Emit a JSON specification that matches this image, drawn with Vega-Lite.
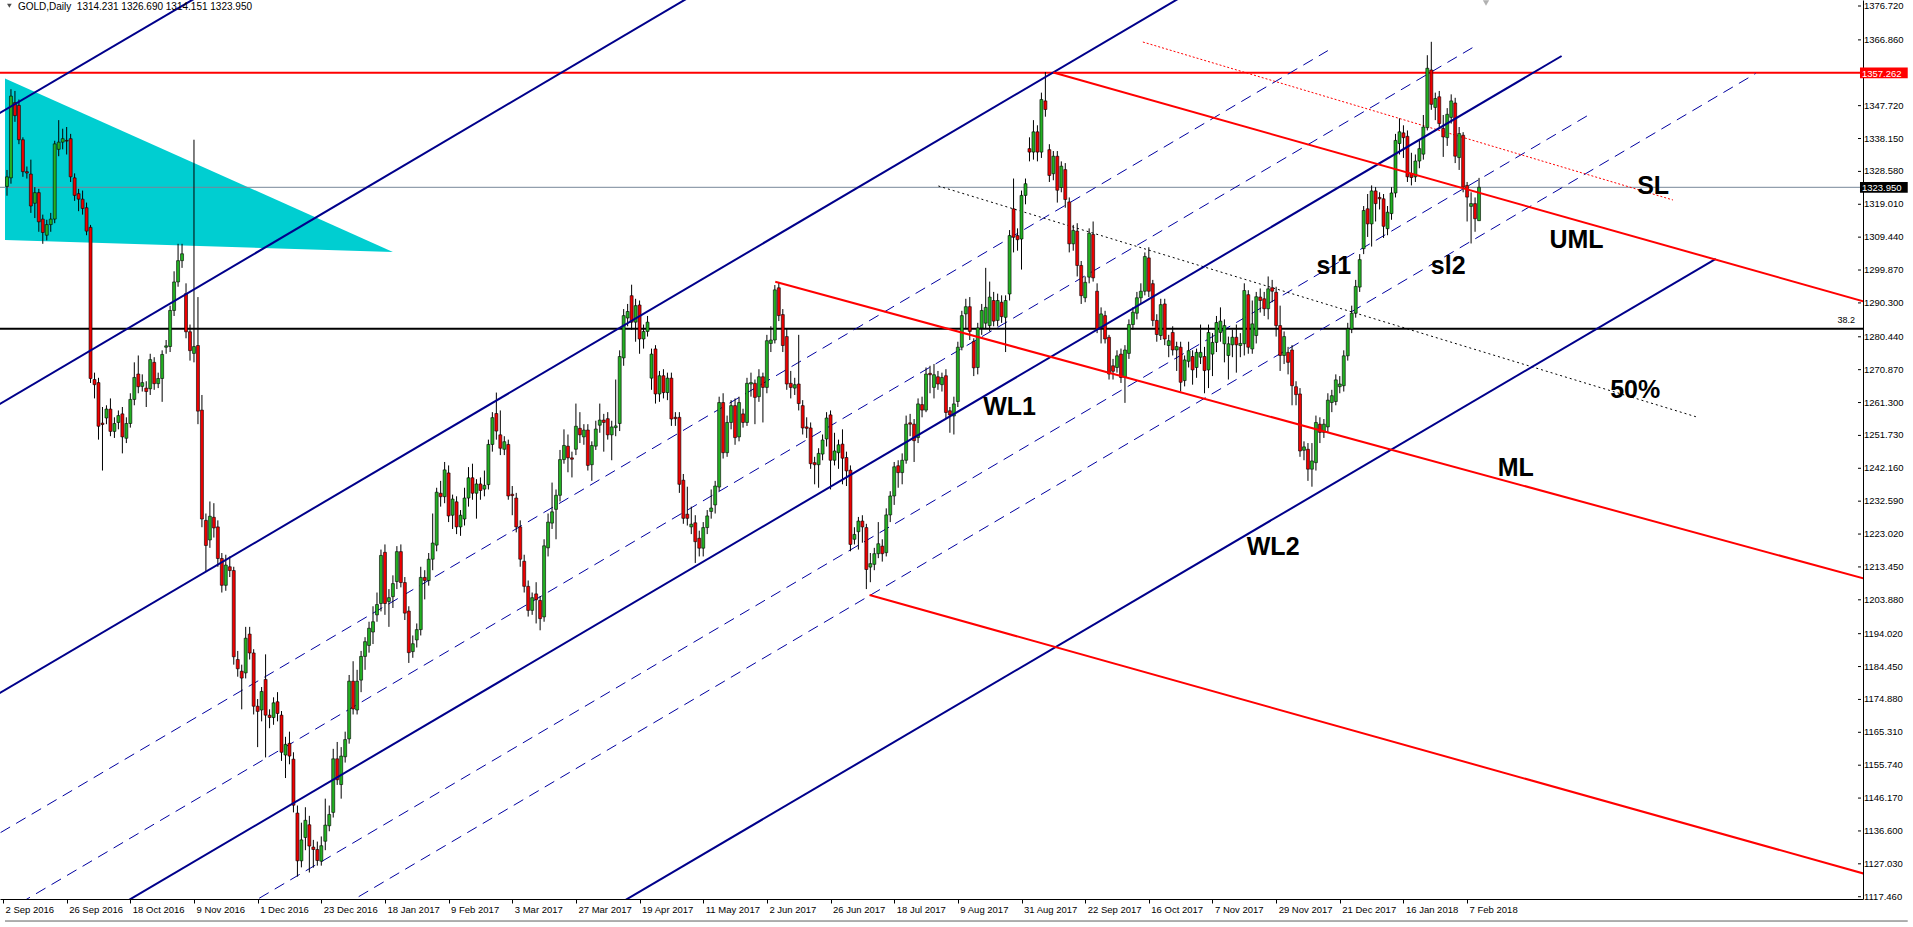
{
"$schema":"https://vega.github.io/schema/vega-lite/v6.json",
"width":1863,"height":899,
"autosize":{"type":"none"},
"padding":{"left":0,"top":0,"right":50,"bottom":28},
"background":"white",
"config":{"view":{"stroke":null},"font":"Liberation Sans","axis":{"labelOverlap":false,"labelSeparation":0}},
"datasets":{
"candles":[
{"i":1,"o":1324.2,"h":1329,"l":1321.5,"c":1327.0},
{"i":2,"o":1326.7,"h":1352.5,"l":1325.0,"c":1350.5},
{"i":3,"o":1348.6,"h":1352.0,"l":1343.0,"c":1344.8},
{"i":4,"o":1347.8,"h":1349.5,"l":1336.5,"c":1337.8},
{"i":5,"o":1337.8,"h":1338.5,"l":1327.0,"c":1328.5},
{"i":6,"o":1328.5,"h":1330.0,"l":1326.5,"c":1328.1},
{"i":7,"o":1327.8,"h":1332.0,"l":1316.5,"c":1318.5},
{"i":8,"o":1319.3,"h":1324.0,"l":1315.0,"c":1322.4},
{"i":9,"o":1322.4,"h":1323.5,"l":1311.0,"c":1313.9},
{"i":10,"o":1314.7,"h":1316.0,"l":1307.5,"c":1310.8},
{"i":11,"o":1310.0,"h":1314.5,"l":1308.5,"c":1313.1},
{"i":12,"o":1313.1,"h":1316.5,"l":1311.0,"c":1314.7},
{"i":13,"o":1314.7,"h":1337.5,"l":1313.5,"c":1336.6},
{"i":14,"o":1335.0,"h":1343.5,"l":1333.0,"c":1337.1},
{"i":15,"o":1337.1,"h":1341.0,"l":1335.0,"c":1338.1},
{"i":16,"o":1337.6,"h":1341.5,"l":1333.5,"c":1337.4},
{"i":17,"o":1338.1,"h":1339.5,"l":1325.5,"c":1327.0},
{"i":18,"o":1326.7,"h":1328.0,"l":1320.0,"c":1321.6},
{"i":19,"o":1322.1,"h":1323.5,"l":1317.0,"c":1320.5},
{"i":20,"o":1320.5,"h":1323.0,"l":1316.0,"c":1317.8},
{"i":21,"o":1318.0,"h":1319.5,"l":1310.0,"c":1311.2},
{"i":22,"o":1312.3,"h":1313.0,"l":1267.0,"c":1268.3},
{"i":23,"o":1268.0,"h":1270.0,"l":1262.5,"c":1266.5},
{"i":24,"o":1267.1,"h":1268.5,"l":1250.5,"c":1254.4},
{"i":25,"o":1255.3,"h":1260.0,"l":1241.5,"c":1254.9},
{"i":26,"o":1256.8,"h":1260.5,"l":1255.0,"c":1259.4},
{"i":27,"o":1259.4,"h":1262.5,"l":1251.5,"c":1252.9},
{"i":28,"o":1252.9,"h":1257.0,"l":1251.0,"c":1255.2},
{"i":29,"o":1255.5,"h":1259.0,"l":1253.5,"c":1257.5},
{"i":30,"o":1258.0,"h":1260.0,"l":1246.5,"c":1251.3},
{"i":31,"o":1250.9,"h":1257.0,"l":1249.5,"c":1255.2},
{"i":32,"o":1255.2,"h":1264.0,"l":1254.0,"c":1262.2},
{"i":33,"o":1262.2,"h":1273.0,"l":1260.5,"c":1268.6},
{"i":34,"o":1269.6,"h":1275.0,"l":1264.0,"c":1265.9},
{"i":35,"o":1266.0,"h":1269.5,"l":1264.5,"c":1267.1},
{"i":36,"o":1265.5,"h":1267.5,"l":1260.0,"c":1264.5},
{"i":37,"o":1265.3,"h":1275.5,"l":1263.5,"c":1273.8},
{"i":38,"o":1273.0,"h":1274.5,"l":1265.0,"c":1266.8},
{"i":39,"o":1266.8,"h":1270.0,"l":1265.5,"c":1268.3},
{"i":40,"o":1268.3,"h":1276.5,"l":1261.5,"c":1275.3},
{"i":41,"o":1277.4,"h":1279.5,"l":1275.5,"c":1277.8},
{"i":42,"o":1277.6,"h":1289.5,"l":1276.0,"c":1288.1},
{"i":43,"o":1288.1,"h":1299.5,"l":1286.5,"c":1296.4},
{"i":44,"o":1296.4,"h":1307.5,"l":1295.0,"c":1302.6},
{"i":45,"o":1302.6,"h":1307.5,"l":1300.5,"c":1304.6},
{"i":46,"o":1293.0,"h":1296.0,"l":1280.0,"c":1281.9},
{"i":47,"o":1281.9,"h":1284.0,"l":1273.5,"c":1276.4},
{"i":48,"o":1275.6,"h":1337.8,"l":1273.0,"c":1277.6},
{"i":49,"o":1277.9,"h":1292.0,"l":1255.0,"c":1258.8},
{"i":50,"o":1259.1,"h":1263.5,"l":1225.0,"c":1227.4},
{"i":51,"o":1227.0,"h":1229.0,"l":1212.0,"c":1219.7},
{"i":52,"o":1221.3,"h":1232.5,"l":1219.0,"c":1228.2},
{"i":53,"o":1227.9,"h":1232.0,"l":1222.0,"c":1224.8},
{"i":54,"o":1225.1,"h":1227.0,"l":1213.5,"c":1215.9},
{"i":55,"o":1215.9,"h":1217.5,"l":1206.0,"c":1208.1},
{"i":56,"o":1208.1,"h":1217.0,"l":1206.5,"c":1214.0},
{"i":57,"o":1213.5,"h":1216.5,"l":1210.5,"c":1212.4},
{"i":58,"o":1212.4,"h":1213.5,"l":1185.0,"c":1187.3},
{"i":59,"o":1186.5,"h":1189.0,"l":1181.5,"c":1183.8},
{"i":60,"o":1183.1,"h":1185.0,"l":1172.0,"c":1181.1},
{"i":61,"o":1182.6,"h":1196.0,"l":1181.0,"c":1192.7},
{"i":62,"o":1193.9,"h":1196.0,"l":1186.5,"c":1188.4},
{"i":63,"o":1188.4,"h":1189.5,"l":1170.5,"c":1172.9},
{"i":64,"o":1172.9,"h":1175.0,"l":1161.0,"c":1171.4},
{"i":65,"o":1171.8,"h":1178.5,"l":1168.5,"c":1177.2},
{"i":66,"o":1180.7,"h":1188.0,"l":1158.0,"c":1170.3},
{"i":67,"o":1170.3,"h":1172.0,"l":1166.5,"c":1169.6},
{"i":68,"o":1169.6,"h":1175.5,"l":1167.5,"c":1173.9},
{"i":69,"o":1174.2,"h":1177.0,"l":1168.5,"c":1170.8},
{"i":70,"o":1170.3,"h":1171.5,"l":1157.0,"c":1159.5},
{"i":71,"o":1158.7,"h":1164.0,"l":1152.0,"c":1161.8},
{"i":72,"o":1162.1,"h":1165.5,"l":1156.0,"c":1158.4},
{"i":73,"o":1157.5,"h":1159.5,"l":1142.0,"c":1144.1},
{"i":74,"o":1141.8,"h":1144.0,"l":1123.3,"c":1127.9},
{"i":75,"o":1127.9,"h":1139.0,"l":1126.0,"c":1134.0},
{"i":76,"o":1134.7,"h":1143.5,"l":1131.0,"c":1139.7},
{"i":77,"o":1138.4,"h":1141.0,"l":1124.5,"c":1132.2},
{"i":78,"o":1131.9,"h":1134.0,"l":1125.9,"c":1131.2},
{"i":79,"o":1131.2,"h":1133.5,"l":1126.5,"c":1128.0},
{"i":80,"o":1127.8,"h":1135.0,"l":1126.5,"c":1132.3},
{"i":81,"o":1133.6,"h":1146.0,"l":1131.0,"c":1138.3},
{"i":82,"o":1138.1,"h":1144.0,"l":1136.5,"c":1141.4},
{"i":83,"o":1142.0,"h":1160.5,"l":1140.5,"c":1157.6},
{"i":84,"o":1157.6,"h":1162.5,"l":1150.0,"c":1151.5},
{"i":85,"o":1150.1,"h":1161.0,"l":1146.0,"c":1158.4},
{"i":86,"o":1158.2,"h":1165.5,"l":1156.5,"c":1163.2},
{"i":87,"o":1163.4,"h":1182.0,"l":1162.0,"c":1180.2},
{"i":88,"o":1180.2,"h":1186.0,"l":1170.5,"c":1172.1},
{"i":89,"o":1171.8,"h":1183.5,"l":1170.5,"c":1180.2},
{"i":90,"o":1180.5,"h":1189.0,"l":1177.0,"c":1187.4},
{"i":91,"o":1187.4,"h":1193.0,"l":1183.5,"c":1191.7},
{"i":92,"o":1190.6,"h":1197.5,"l":1188.5,"c":1195.6},
{"i":93,"o":1194.5,"h":1202.0,"l":1191.0,"c":1197.5},
{"i":94,"o":1199.5,"h":1206.0,"l":1197.5,"c":1202.5},
{"i":95,"o":1202.8,"h":1218.5,"l":1200.5,"c":1216.8},
{"i":96,"o":1217.7,"h":1220.0,"l":1199.5,"c":1202.8},
{"i":97,"o":1203.4,"h":1207.0,"l":1196.0,"c":1204.5},
{"i":98,"o":1204.8,"h":1211.0,"l":1201.5,"c":1208.6},
{"i":99,"o":1209.2,"h":1219.5,"l":1207.0,"c":1217.9},
{"i":100,"o":1217.9,"h":1220.0,"l":1207.5,"c":1208.9},
{"i":101,"o":1208.9,"h":1210.5,"l":1198.0,"c":1200.0},
{"i":102,"o":1200.6,"h":1202.0,"l":1185.5,"c":1188.5},
{"i":103,"o":1188.8,"h":1193.5,"l":1187.0,"c":1191.1},
{"i":104,"o":1192.2,"h":1197.0,"l":1190.0,"c":1195.2},
{"i":105,"o":1195.2,"h":1213.5,"l":1193.5,"c":1210.4},
{"i":106,"o":1210.4,"h":1212.5,"l":1204.0,"c":1209.5},
{"i":107,"o":1209.5,"h":1217.5,"l":1208.0,"c":1215.7},
{"i":108,"o":1215.7,"h":1229.0,"l":1212.5,"c":1220.4},
{"i":109,"o":1219.8,"h":1236.5,"l":1218.0,"c":1235.2},
{"i":110,"o":1234.9,"h":1238.5,"l":1231.0,"c":1233.9},
{"i":111,"o":1233.9,"h":1244.0,"l":1232.0,"c":1241.7},
{"i":112,"o":1240.8,"h":1243.0,"l":1226.5,"c":1228.3},
{"i":113,"o":1228.5,"h":1234.5,"l":1224.5,"c":1233.2},
{"i":114,"o":1232.4,"h":1234.0,"l":1223.0,"c":1225.1},
{"i":115,"o":1225.1,"h":1230.0,"l":1222.5,"c":1228.5},
{"i":116,"o":1227.4,"h":1236.5,"l":1225.5,"c":1233.5},
{"i":117,"o":1233.5,"h":1242.5,"l":1231.0,"c":1239.4},
{"i":118,"o":1239.4,"h":1243.5,"l":1233.0,"c":1234.9},
{"i":119,"o":1234.9,"h":1239.0,"l":1227.5,"c":1237.6},
{"i":120,"o":1237.6,"h":1239.5,"l":1233.0,"c":1235.7},
{"i":121,"o":1236.1,"h":1241.5,"l":1234.0,"c":1237.2},
{"i":122,"o":1237.4,"h":1250.5,"l":1236.0,"c":1249.1},
{"i":123,"o":1249.1,"h":1258.5,"l":1247.0,"c":1256.9},
{"i":124,"o":1258.1,"h":1264.2,"l":1250.5,"c":1253.0},
{"i":125,"o":1251.9,"h":1259.0,"l":1246.0,"c":1248.0},
{"i":126,"o":1247.7,"h":1251.5,"l":1246.0,"c":1249.9},
{"i":127,"o":1249.1,"h":1250.5,"l":1233.0,"c":1234.1},
{"i":128,"o":1234.6,"h":1237.0,"l":1228.5,"c":1234.2},
{"i":129,"o":1233.5,"h":1235.0,"l":1223.5,"c":1225.1},
{"i":130,"o":1225.1,"h":1227.0,"l":1213.5,"c":1215.7},
{"i":131,"o":1215.1,"h":1217.0,"l":1206.0,"c":1207.8},
{"i":132,"o":1207.8,"h":1209.5,"l":1199.0,"c":1200.8},
{"i":133,"o":1200.8,"h":1206.0,"l":1199.5,"c":1204.5},
{"i":134,"o":1205.6,"h":1209.0,"l":1197.0,"c":1203.9},
{"i":135,"o":1203.7,"h":1205.0,"l":1195.0,"c":1198.4},
{"i":136,"o":1198.9,"h":1221.5,"l":1197.5,"c":1219.6},
{"i":137,"o":1219.0,"h":1229.0,"l":1216.5,"c":1226.5},
{"i":138,"o":1226.2,"h":1238.0,"l":1224.5,"c":1229.5},
{"i":139,"o":1230.2,"h":1236.0,"l":1221.5,"c":1234.3},
{"i":140,"o":1234.3,"h":1247.5,"l":1232.5,"c":1244.7},
{"i":141,"o":1244.7,"h":1253.5,"l":1243.5,"c":1248.8},
{"i":142,"o":1248.6,"h":1252.0,"l":1241.0,"c":1245.2},
{"i":143,"o":1245.2,"h":1247.0,"l":1239.5,"c":1244.8},
{"i":144,"o":1247.7,"h":1261.0,"l":1246.0,"c":1254.4},
{"i":145,"o":1253.8,"h":1258.5,"l":1249.5,"c":1251.9},
{"i":146,"o":1251.3,"h":1255.0,"l":1249.0,"c":1253.3},
{"i":147,"o":1253.3,"h":1255.0,"l":1241.5,"c":1243.0},
{"i":148,"o":1243.2,"h":1250.0,"l":1238.5,"c":1248.8},
{"i":149,"o":1248.6,"h":1256.0,"l":1247.5,"c":1253.6},
{"i":150,"o":1254.7,"h":1261.0,"l":1252.5,"c":1256.2},
{"i":151,"o":1256.2,"h":1258.0,"l":1247.0,"c":1255.5},
{"i":152,"o":1256.6,"h":1258.5,"l":1250.5,"c":1251.9},
{"i":153,"o":1251.9,"h":1256.0,"l":1244.5,"c":1254.2},
{"i":154,"o":1254.0,"h":1268.0,"l":1251.5,"c":1254.5},
{"i":155,"o":1255.2,"h":1276.5,"l":1253.0,"c":1274.7},
{"i":156,"o":1274.3,"h":1288.5,"l":1272.0,"c":1286.6},
{"i":157,"o":1285.9,"h":1290.0,"l":1283.5,"c":1287.8},
{"i":158,"o":1292.4,"h":1295.6,"l":1282.5,"c":1284.7},
{"i":159,"o":1284.7,"h":1291.5,"l":1279.0,"c":1289.5},
{"i":160,"o":1289.7,"h":1291.0,"l":1275.5,"c":1279.8},
{"i":161,"o":1279.8,"h":1284.0,"l":1277.0,"c":1282.0},
{"i":162,"o":1282.0,"h":1286.5,"l":1280.5,"c":1284.7},
{"i":163,"o":1268.4,"h":1277.0,"l":1265.0,"c":1275.4},
{"i":164,"o":1276.9,"h":1278.0,"l":1261.0,"c":1263.8},
{"i":165,"o":1263.8,"h":1270.5,"l":1261.5,"c":1269.1},
{"i":166,"o":1269.1,"h":1271.0,"l":1262.5,"c":1264.2},
{"i":167,"o":1264.2,"h":1270.0,"l":1262.0,"c":1268.4},
{"i":168,"o":1268.4,"h":1270.0,"l":1254.5,"c":1256.5},
{"i":169,"o":1257.0,"h":1258.5,"l":1254.5,"c":1256.6},
{"i":170,"o":1257.0,"h":1258.5,"l":1235.0,"c":1237.5},
{"i":171,"o":1238.7,"h":1240.5,"l":1226.0,"c":1227.6},
{"i":172,"o":1228.8,"h":1236.8,"l":1225.5,"c":1227.6},
{"i":173,"o":1225.1,"h":1231.0,"l":1223.0,"c":1225.9},
{"i":174,"o":1226.3,"h":1228.5,"l":1214.6,"c":1220.8},
{"i":175,"o":1221.8,"h":1224.0,"l":1216.5,"c":1218.9},
{"i":176,"o":1218.9,"h":1226.5,"l":1216.5,"c":1224.9},
{"i":177,"o":1224.9,"h":1230.0,"l":1223.0,"c":1228.3},
{"i":178,"o":1229.6,"h":1236.0,"l":1227.5,"c":1230.6},
{"i":179,"o":1231.5,"h":1238.5,"l":1229.0,"c":1237.0},
{"i":180,"o":1236.7,"h":1263.0,"l":1235.5,"c":1261.3},
{"i":181,"o":1261.3,"h":1264.0,"l":1245.0,"c":1246.7},
{"i":182,"o":1246.7,"h":1257.5,"l":1245.5,"c":1255.5},
{"i":183,"o":1255.5,"h":1262.0,"l":1253.5,"c":1260.4},
{"i":184,"o":1260.4,"h":1262.5,"l":1249.0,"c":1251.1},
{"i":185,"o":1251.3,"h":1263.0,"l":1250.0,"c":1261.3},
{"i":186,"o":1258.0,"h":1259.5,"l":1254.0,"c":1255.5},
{"i":187,"o":1255.5,"h":1268.5,"l":1254.5,"c":1266.9},
{"i":188,"o":1266.7,"h":1270.0,"l":1263.0,"c":1267.1},
{"i":189,"o":1266.9,"h":1268.0,"l":1255.0,"c":1262.8},
{"i":190,"o":1263.0,"h":1271.0,"l":1261.5,"c":1268.8},
{"i":191,"o":1268.8,"h":1270.0,"l":1255.5,"c":1265.7},
{"i":192,"o":1265.7,"h":1281.0,"l":1264.0,"c":1279.3},
{"i":193,"o":1278.5,"h":1283.5,"l":1276.0,"c":1279.5},
{"i":194,"o":1279.5,"h":1295.5,"l":1278.5,"c":1294.1},
{"i":195,"o":1294.7,"h":1296.3,"l":1285.0,"c":1286.6},
{"i":196,"o":1286.9,"h":1288.5,"l":1276.0,"c":1277.9},
{"i":197,"o":1280.5,"h":1283.0,"l":1265.0,"c":1266.7},
{"i":198,"o":1266.9,"h":1270.5,"l":1262.5,"c":1265.7},
{"i":199,"o":1265.5,"h":1268.5,"l":1263.5,"c":1266.5},
{"i":200,"o":1266.7,"h":1281.0,"l":1259.0,"c":1261.0},
{"i":201,"o":1260.4,"h":1262.0,"l":1252.0,"c":1253.9},
{"i":202,"o":1254.2,"h":1257.0,"l":1251.0,"c":1253.8},
{"i":203,"o":1253.9,"h":1255.5,"l":1242.0,"c":1243.5},
{"i":204,"o":1243.8,"h":1245.5,"l":1237.5,"c":1243.2},
{"i":205,"o":1243.2,"h":1248.0,"l":1236.5,"c":1246.5},
{"i":206,"o":1246.3,"h":1252.0,"l":1244.5,"c":1250.4},
{"i":207,"o":1250.7,"h":1258.5,"l":1248.5,"c":1256.8},
{"i":208,"o":1257.7,"h":1259.0,"l":1236.0,"c":1244.5},
{"i":209,"o":1244.5,"h":1252.5,"l":1243.0,"c":1247.2},
{"i":210,"o":1246.7,"h":1250.5,"l":1242.0,"c":1249.0},
{"i":211,"o":1249.2,"h":1253.5,"l":1237.5,"c":1245.1},
{"i":212,"o":1245.3,"h":1247.0,"l":1237.0,"c":1241.4},
{"i":213,"o":1241.6,"h":1243.0,"l":1218.0,"c":1220.0},
{"i":214,"o":1221.5,"h":1225.0,"l":1220.0,"c":1222.9},
{"i":215,"o":1223.7,"h":1228.0,"l":1218.5,"c":1226.8},
{"i":216,"o":1226.8,"h":1228.5,"l":1220.5,"c":1225.1},
{"i":217,"o":1224.9,"h":1226.0,"l":1207.0,"c":1212.7},
{"i":218,"o":1213.4,"h":1217.5,"l":1209.0,"c":1214.4},
{"i":219,"o":1214.2,"h":1219.0,"l":1212.5,"c":1217.3},
{"i":220,"o":1217.3,"h":1226.5,"l":1216.0,"c":1220.2},
{"i":221,"o":1219.5,"h":1221.5,"l":1215.0,"c":1217.3},
{"i":222,"o":1217.6,"h":1230.5,"l":1216.5,"c":1228.6},
{"i":223,"o":1228.6,"h":1235.5,"l":1226.5,"c":1234.1},
{"i":224,"o":1234.1,"h":1244.0,"l":1231.5,"c":1242.6},
{"i":225,"o":1242.9,"h":1244.5,"l":1236.5,"c":1240.9},
{"i":226,"o":1240.9,"h":1246.5,"l":1237.5,"c":1244.5},
{"i":227,"o":1244.5,"h":1257.5,"l":1243.5,"c":1255.0},
{"i":228,"o":1255.4,"h":1258.0,"l":1251.5,"c":1255.0},
{"i":229,"o":1255.0,"h":1256.5,"l":1244.0,"c":1250.2},
{"i":230,"o":1251.1,"h":1262.5,"l":1249.5,"c":1260.9},
{"i":231,"o":1260.7,"h":1263.0,"l":1257.0,"c":1259.1},
{"i":232,"o":1259.1,"h":1271.5,"l":1258.5,"c":1269.6},
{"i":233,"o":1269.8,"h":1272.0,"l":1264.0,"c":1269.4},
{"i":234,"o":1265.7,"h":1272.5,"l":1262.5,"c":1269.4},
{"i":235,"o":1268.8,"h":1270.5,"l":1265.0,"c":1266.7},
{"i":236,"o":1266.5,"h":1270.0,"l":1264.5,"c":1268.6},
{"i":237,"o":1269.1,"h":1271.0,"l":1256.5,"c":1258.4},
{"i":238,"o":1258.9,"h":1260.0,"l":1252.5,"c":1257.7},
{"i":239,"o":1257.4,"h":1263.0,"l":1252.0,"c":1260.9},
{"i":240,"o":1261.6,"h":1279.0,"l":1260.0,"c":1277.4},
{"i":241,"o":1277.4,"h":1288.0,"l":1276.5,"c":1286.6},
{"i":242,"o":1287.1,"h":1291.5,"l":1283.0,"c":1289.2},
{"i":243,"o":1289.2,"h":1292.0,"l":1279.5,"c":1282.0},
{"i":244,"o":1279.1,"h":1280.0,"l":1269.0,"c":1271.4},
{"i":245,"o":1271.5,"h":1284.5,"l":1269.5,"c":1283.0},
{"i":246,"o":1283.0,"h":1290.0,"l":1281.0,"c":1288.1},
{"i":247,"o":1284.4,"h":1300.5,"l":1283.0,"c":1289.0},
{"i":248,"o":1283.7,"h":1296.5,"l":1282.0,"c":1292.0},
{"i":249,"o":1291.0,"h":1293.5,"l":1283.5,"c":1285.0},
{"i":250,"o":1285.2,"h":1293.0,"l":1283.5,"c":1291.0},
{"i":251,"o":1290.5,"h":1292.5,"l":1284.5,"c":1286.3},
{"i":252,"o":1286.1,"h":1292.5,"l":1276.0,"c":1291.0},
{"i":253,"o":1292.9,"h":1311.5,"l":1291.0,"c":1309.9},
{"i":254,"o":1317.7,"h":1326.5,"l":1305.0,"c":1309.4},
{"i":255,"o":1309.9,"h":1312.0,"l":1305.5,"c":1308.7},
{"i":256,"o":1308.9,"h":1323.0,"l":1300.0,"c":1321.6},
{"i":257,"o":1321.6,"h":1326.5,"l":1319.0,"c":1325.0},
{"i":258,"o":1335.2,"h":1338.5,"l":1331.5,"c":1334.2},
{"i":259,"o":1334.2,"h":1343.5,"l":1332.0,"c":1340.1},
{"i":260,"o":1340.1,"h":1342.0,"l":1331.5,"c":1334.2},
{"i":261,"o":1334.2,"h":1351.5,"l":1332.5,"c":1349.5},
{"i":262,"o":1349.1,"h":1357.5,"l":1344.5,"c":1346.6},
{"i":263,"o":1334.9,"h":1336.5,"l":1325.5,"c":1327.4},
{"i":264,"o":1327.9,"h":1334.5,"l":1326.0,"c":1333.0},
{"i":265,"o":1333.0,"h":1334.5,"l":1319.5,"c":1323.1},
{"i":266,"o":1323.9,"h":1331.5,"l":1322.5,"c":1330.1},
{"i":267,"o":1329.1,"h":1331.0,"l":1318.0,"c":1320.4},
{"i":268,"o":1319.7,"h":1321.0,"l":1305.0,"c":1307.5},
{"i":269,"o":1307.5,"h":1313.0,"l":1305.5,"c":1311.4},
{"i":270,"o":1311.2,"h":1313.5,"l":1298.0,"c":1301.2},
{"i":271,"o":1301.2,"h":1302.5,"l":1290.0,"c":1292.4},
{"i":272,"o":1291.8,"h":1298.0,"l":1290.5,"c":1296.3},
{"i":273,"o":1297.8,"h":1312.0,"l":1296.0,"c":1310.6},
{"i":274,"o":1310.2,"h":1314.0,"l":1296.5,"c":1297.6},
{"i":275,"o":1293.7,"h":1296.0,"l":1281.5,"c":1282.7},
{"i":276,"o":1283.0,"h":1289.0,"l":1278.5,"c":1287.1},
{"i":277,"o":1286.6,"h":1288.0,"l":1278.5,"c":1279.8},
{"i":278,"o":1280.3,"h":1281.0,"l":1268.0,"c":1269.6},
{"i":279,"o":1272.0,"h":1274.0,"l":1268.0,"c":1270.4},
{"i":280,"o":1271.5,"h":1276.5,"l":1270.0,"c":1274.9},
{"i":281,"o":1275.4,"h":1277.0,"l":1267.0,"c":1268.6},
{"i":282,"o":1268.6,"h":1278.0,"l":1261.2,"c":1276.6},
{"i":283,"o":1275.6,"h":1285.5,"l":1274.0,"c":1284.0},
{"i":284,"o":1284.0,"h":1289.0,"l":1282.5,"c":1287.6},
{"i":285,"o":1287.3,"h":1293.5,"l":1285.5,"c":1291.8},
{"i":286,"o":1291.8,"h":1296.0,"l":1290.0,"c":1293.7},
{"i":287,"o":1293.7,"h":1305.0,"l":1292.5,"c":1303.8},
{"i":288,"o":1303.4,"h":1306.5,"l":1292.0,"c":1293.7},
{"i":289,"o":1295.9,"h":1297.0,"l":1283.5,"c":1285.2},
{"i":290,"o":1285.2,"h":1287.0,"l":1279.0,"c":1281.1},
{"i":291,"o":1280.8,"h":1291.5,"l":1279.5,"c":1289.8},
{"i":292,"o":1290.0,"h":1291.5,"l":1278.0,"c":1279.8},
{"i":293,"o":1277.9,"h":1281.0,"l":1274.5,"c":1279.3},
{"i":294,"o":1281.7,"h":1283.5,"l":1275.0,"c":1276.6},
{"i":295,"o":1276.6,"h":1279.0,"l":1270.5,"c":1277.6},
{"i":296,"o":1277.4,"h":1279.0,"l":1264.5,"c":1267.2},
{"i":297,"o":1267.7,"h":1275.0,"l":1266.0,"c":1273.7},
{"i":298,"o":1273.3,"h":1279.0,"l":1271.5,"c":1276.4},
{"i":299,"o":1274.7,"h":1276.5,"l":1266.5,"c":1270.8},
{"i":300,"o":1271.5,"h":1277.0,"l":1268.5,"c":1275.9},
{"i":301,"o":1274.5,"h":1284.0,"l":1272.5,"c":1275.9},
{"i":302,"o":1274.7,"h":1277.5,"l":1264.0,"c":1270.6},
{"i":303,"o":1270.8,"h":1284.0,"l":1265.5,"c":1281.7},
{"i":304,"o":1275.4,"h":1281.5,"l":1269.0,"c":1278.8},
{"i":305,"o":1278.8,"h":1286.5,"l":1276.0,"c":1284.6},
{"i":306,"o":1281.7,"h":1289.0,"l":1279.0,"c":1285.0},
{"i":307,"o":1278.4,"h":1285.5,"l":1273.0,"c":1283.7},
{"i":308,"o":1275.0,"h":1280.5,"l":1268.0,"c":1278.4},
{"i":309,"o":1278.1,"h":1282.5,"l":1274.5,"c":1280.3},
{"i":310,"o":1280.3,"h":1284.0,"l":1270.0,"c":1278.1},
{"i":311,"o":1277.9,"h":1281.5,"l":1274.5,"c":1278.5},
{"i":312,"o":1278.4,"h":1296.0,"l":1275.0,"c":1293.9},
{"i":313,"o":1292.7,"h":1294.0,"l":1275.5,"c":1277.4},
{"i":314,"o":1276.9,"h":1291.0,"l":1275.5,"c":1284.2},
{"i":315,"o":1280.8,"h":1293.5,"l":1278.5,"c":1292.1},
{"i":316,"o":1292.0,"h":1294.5,"l":1287.5,"c":1291.0},
{"i":317,"o":1291.5,"h":1293.5,"l":1286.5,"c":1288.6},
{"i":318,"o":1288.6,"h":1298.0,"l":1285.5,"c":1294.4},
{"i":319,"o":1294.7,"h":1297.0,"l":1290.5,"c":1293.7},
{"i":320,"o":1293.4,"h":1295.0,"l":1280.5,"c":1283.7},
{"i":321,"o":1283.7,"h":1289.5,"l":1270.5,"c":1275.0},
{"i":322,"o":1275.0,"h":1282.0,"l":1272.5,"c":1280.5},
{"i":323,"o":1275.9,"h":1277.5,"l":1269.5,"c":1273.0},
{"i":324,"o":1276.6,"h":1278.0,"l":1260.5,"c":1266.2},
{"i":325,"o":1265.9,"h":1267.5,"l":1260.5,"c":1263.6},
{"i":326,"o":1263.8,"h":1265.5,"l":1245.5,"c":1247.2},
{"i":327,"o":1247.4,"h":1250.0,"l":1244.5,"c":1248.4},
{"i":328,"o":1247.7,"h":1249.5,"l":1238.5,"c":1241.9},
{"i":329,"o":1241.9,"h":1249.5,"l":1236.8,"c":1244.3},
{"i":330,"o":1243.8,"h":1257.5,"l":1241.5,"c":1255.5},
{"i":331,"o":1255.0,"h":1257.0,"l":1249.5,"c":1252.6},
{"i":332,"o":1252.6,"h":1256.5,"l":1251.0,"c":1255.0},
{"i":333,"o":1254.2,"h":1264.0,"l":1252.5,"c":1262.0},
{"i":334,"o":1261.3,"h":1265.0,"l":1258.5,"c":1263.3},
{"i":335,"o":1261.6,"h":1269.5,"l":1260.5,"c":1267.9},
{"i":336,"o":1265.9,"h":1269.0,"l":1264.0,"c":1266.7},
{"i":337,"o":1266.2,"h":1276.5,"l":1264.5,"c":1274.9},
{"i":338,"o":1274.9,"h":1284.5,"l":1273.5,"c":1282.7},
{"i":339,"o":1282.7,"h":1289.5,"l":1281.5,"c":1287.3},
{"i":340,"o":1287.3,"h":1297.0,"l":1286.0,"c":1295.1},
{"i":341,"o":1294.9,"h":1304.5,"l":1293.5,"c":1302.9},
{"i":342,"o":1306.1,"h":1318.5,"l":1304.5,"c":1317.2},
{"i":343,"o":1317.7,"h":1322.0,"l":1309.5,"c":1313.3},
{"i":344,"o":1313.3,"h":1324.5,"l":1306.7,"c":1322.9},
{"i":345,"o":1322.9,"h":1324.0,"l":1314.0,"c":1319.2},
{"i":346,"o":1321.0,"h":1322.5,"l":1317.5,"c":1320.6},
{"i":347,"o":1320.6,"h":1322.0,"l":1309.2,"c":1312.6},
{"i":348,"o":1311.9,"h":1318.5,"l":1310.0,"c":1316.7},
{"i":349,"o":1316.3,"h":1324.0,"l":1314.5,"c":1322.3},
{"i":350,"o":1322.3,"h":1339.5,"l":1321.0,"c":1337.6},
{"i":351,"o":1336.7,"h":1344.0,"l":1333.5,"c":1340.1},
{"i":352,"o":1339.8,"h":1342.0,"l":1332.5,"c":1338.4},
{"i":353,"o":1338.8,"h":1340.5,"l":1325.5,"c":1327.0},
{"i":354,"o":1328.0,"h":1334.0,"l":1324.5,"c":1326.8},
{"i":355,"o":1327.0,"h":1333.5,"l":1325.5,"c":1331.6},
{"i":356,"o":1331.6,"h":1337.5,"l":1329.5,"c":1335.2},
{"i":357,"o":1333.6,"h":1345.0,"l":1332.0,"c":1341.5},
{"i":358,"o":1341.3,"h":1362.4,"l":1340.5,"c":1358.6},
{"i":359,"o":1358.1,"h":1366.3,"l":1346.5,"c":1348.1},
{"i":360,"o":1347.2,"h":1351.5,"l":1343.5,"c":1349.8},
{"i":361,"o":1350.3,"h":1352.0,"l":1341.0,"c":1342.5},
{"i":362,"o":1341.1,"h":1345.0,"l":1332.8,"c":1338.6},
{"i":363,"o":1338.4,"h":1347.0,"l":1336.0,"c":1345.2},
{"i":364,"o":1344.3,"h":1351.0,"l":1342.5,"c":1349.1},
{"i":365,"o":1348.5,"h":1350.0,"l":1331.0,"c":1333.0},
{"i":366,"o":1332.6,"h":1341.5,"l":1329.0,"c":1339.6},
{"i":367,"o":1339.1,"h":1340.0,"l":1322.5,"c":1324.0},
{"i":368,"o":1324.5,"h":1325.5,"l":1314.0,"c":1321.1},
{"i":369,"o":1318.4,"h":1322.5,"l":1307.6,"c":1319.2},
{"i":370,"o":1319.2,"h":1321.0,"l":1311.0,"c":1314.8},
{"i":371,"o":1314.231,"h":1326.69,"l":1314.151,"c":1323.95}
],
"blue":[
{"i1":-4.5,"p1":1343.07,"i2":50.5,"p2":1380.48},
{"i1":-4.5,"p1":1258.34,"i2":175.5,"p2":1381.35},
{"i1":-4.5,"p1":1174.21,"i2":300.5,"p2":1382.31},
{"i1":25.5,"p1":1112.31,"i2":391.75,"p2":1362.17},
{"i1":148,"p1":1110.74,"i2":430.5,"p2":1303.14}
],
"dash":[
{"i1":-4.5,"p1":1133.47,"i2":333,"p2":1363.74},
{"i1":0.5,"p1":1113.01,"i2":370.5,"p2":1365.37},
{"i1":60.5,"p1":1114.35,"i2":399.5,"p2":1345.66},
{"i1":85.5,"p1":1114.81,"i2":440.5,"p2":1357.05}
],
"red":[
{"i1":264,"p1":1357.37,"i2":475.5,"p2":1288.18},
{"i1":194.1,"p1":1296.47,"i2":475.5,"p2":1207.61},
{"i1":217.8,"p1":1205.28,"i2":475.5,"p2":1121.65}
],
"reddot":[{"i1":286.5,"p1":1366.24,"i2":419.75,"p2":1320.25}],
"blackdot":[{"i1":235.1,"p1":1324.33,"i2":425.5,"p2":1257.17}],
"hlines":[
{"p":1357.262,"k":"red"},
{"p":1282.8,"k":"black"},
{"p":1323.95,"k":"cur"}
],
"tri":[
{"i":0.5,"top":1355.62,"bot":1308.61},
{"i":98,"top":1305.12,"bot":1305.12}
],
"labels":[
{"i":253,"p":1260.0,"t":"WL1"},
{"i":319.25,"p":1219.25,"t":"WL2"},
{"i":380.25,"p":1242.25,"t":"ML"},
{"i":395.5,"p":1308.6,"t":"UML"},
{"i":414.75,"p":1324.33,"t":"SL"},
{"i":334.5,"p":1301.04,"t":"sl1"},
{"i":363.25,"p":1301.04,"t":"sl2"},
{"i":410.25,"p":1264.95,"t":"50%"}
],
"boxes":[
{"i1":466.75,"i2":478.75,"p1":1355.7,"p2":1358.8,"t":"1357.262","k":"red"},
{"i1":466.75,"i2":478.75,"p1":1322.4,"p2":1325.5,"t":"1323.950","k":"black"}
],
"yticks":[
{"p":1376.72},{"p":1366.86},{"p":1347.72},{"p":1338.15},{"p":1328.58},{"p":1319.01},{"p":1309.44},{"p":1299.87},{"p":1290.30},{"p":1280.44},{"p":1270.87},{"p":1261.30},{"p":1251.73},{"p":1242.16},{"p":1232.59},{"p":1223.02},{"p":1213.45},{"p":1203.88},{"p":1194.02},{"p":1184.45},{"p":1174.88},{"p":1165.31},{"p":1155.74},{"p":1146.17},{"p":1136.60},{"p":1127.03},{"p":1117.46}
],
"bottomline":[{"p":1110.38,"i1":0.5,"i2":478.75}],
"shift":[{"i":372.75,"p":1377.6}]
},
"layer":[
{"data":{"name":"candles"},"mark":{"type":"bar","size":3,"clip":true,"opacity":0},
 "encoding":{
  "x":{"field":"i","type":"quantitative","scale":{"domain":[0.5,466.25],"nice":false,"zero":false},
   "axis":{"orient":"bottom","title":null,"grid":false,"values":[0,16,32,48,64,80,96,112,128,144,160,176,192,208,224,240,256,272,288,304,320,336,352,368],
    "labelExpr":"['2 Sep 2016','26 Sep 2016','18 Oct 2016','9 Nov 2016','1 Dec 2016','23 Dec 2016','18 Jan 2017','9 Feb 2017','3 Mar 2017','27 Mar 2017','19 Apr 2017','11 May 2017','2 Jun 2017','26 Jun 2017','18 Jul 2017','9 Aug 2017','31 Aug 2017','22 Sep 2017','16 Oct 2017','7 Nov 2017','29 Nov 2017','21 Dec 2017','16 Jan 2018','7 Feb 2018'][round(datum.value/16)]",
    "labelAlign":"left","labelOffset":2,"labelBaseline":"top","labelPadding":1,"tickSize":4,"labelFont":"Liberation Sans","labelFontSize":9.5,"labelColor":"#000000","tickColor":"#000000","domainColor":"#000000","domainWidth":1,"labelOverlap":false,"labelFlush":false,"labelBound":false}},
  "y":{"field":"o","type":"quantitative","scale":{"domain":[1116.79,1378.47],"nice":false,"zero":false},
   "axis":{"orient":"right","title":null,"grid":false,"values":[1376.72,1117.46],"labels":false,"ticks":false,"domainColor":"#000000","domainWidth":1}},
  "y2":{"field":"c"}}},
{"data":{"name":"yticks"},"mark":{"type":"rule","color":"#000000","strokeWidth":1,"clip":false},
 "encoding":{
  "y":{"field":"p","type":"quantitative","scale":{"domain":[1116.79,1378.47],"nice":false,"zero":false}},
  "x":{"datum":466.25,"type":"quantitative","scale":{"domain":[0.5,466.25],"nice":false,"zero":false}},
  "x2":{"datum":467.0}}},
{"data":{"name":"yticks"},"mark":{"type":"text","font":"Liberation Sans","fontSize":9.5,"color":"#000000","align":"left","baseline":"middle","clip":false},
 "encoding":{
  "y":{"field":"p","type":"quantitative","scale":{"domain":[1116.79,1378.47],"nice":false,"zero":false}},
  "x":{"datum":467.75,"type":"quantitative","scale":{"domain":[0.5,466.25],"nice":false,"zero":false}},
  "text":{"field":"p","type":"quantitative","format":".3f"}}},
{"data":{"name":"tri"},"mark":{"type":"area","color":"#00CED1","clip":true},
 "encoding":{
  "x":{"field":"i","type":"quantitative","scale":{"domain":[0.5,466.25],"nice":false,"zero":false}},
  "y":{"field":"top","type":"quantitative","scale":{"domain":[1116.79,1378.47],"nice":false,"zero":false}},
  "y2":{"field":"bot"}}},
{"data":{"name":"hlines"},"mark":{"type":"rule","clip":true},
 "encoding":{
  "y":{"field":"p","type":"quantitative","scale":{"domain":[1116.79,1378.47],"nice":false,"zero":false}},
  "color":{"field":"k","type":"nominal","scale":{"domain":["red","black","cur"],"range":["#ff0000","#000000","#778899"]},"legend":null},
  "strokeWidth":{"condition":{"test":"datum.k==='cur'","value":1},"value":2}}},
{"data":{"name":"dash"},"mark":{"type":"rule","color":"#0000a0","strokeWidth":1,"strokeDash":[11,7],"clip":true},
 "encoding":{
  "x":{"field":"i1","type":"quantitative","scale":{"domain":[0.5,466.25],"nice":false,"zero":false}},
  "x2":{"field":"i2"},
  "y":{"field":"p1","type":"quantitative","scale":{"domain":[1116.79,1378.47],"nice":false,"zero":false}},
  "y2":{"field":"p2"}}},
{"data":{"name":"blackdot"},"mark":{"type":"rule","color":"#000000","strokeWidth":1,"strokeDash":[2,3],"clip":true},
 "encoding":{
  "x":{"field":"i1","type":"quantitative","scale":{"domain":[0.5,466.25],"nice":false,"zero":false}},
  "x2":{"field":"i2"},
  "y":{"field":"p1","type":"quantitative","scale":{"domain":[1116.79,1378.47],"nice":false,"zero":false}},
  "y2":{"field":"p2"}}},
{"data":{"name":"reddot"},"mark":{"type":"rule","color":"#ff0000","strokeWidth":1,"strokeDash":[2,2],"clip":true},
 "encoding":{
  "x":{"field":"i1","type":"quantitative","scale":{"domain":[0.5,466.25],"nice":false,"zero":false}},
  "x2":{"field":"i2"},
  "y":{"field":"p1","type":"quantitative","scale":{"domain":[1116.79,1378.47],"nice":false,"zero":false}},
  "y2":{"field":"p2"}}},
{"data":{"name":"candles"},"mark":{"type":"rule","color":"#000000","strokeWidth":1,"clip":true},
 "encoding":{
  "x":{"field":"i","type":"quantitative","scale":{"domain":[0.5,466.25],"nice":false,"zero":false}},
  "y":{"field":"l","type":"quantitative","scale":{"domain":[1116.79,1378.47],"nice":false,"zero":false}},
  "y2":{"field":"h"}}},
{"data":{"name":"candles"},"mark":{"type":"bar","size":3,"stroke":"#000000","strokeWidth":0.6,"clip":true},
 "encoding":{
  "x":{"field":"i","type":"quantitative","scale":{"domain":[0.5,466.25],"nice":false,"zero":false}},
  "y":{"field":"o","type":"quantitative","scale":{"domain":[1116.79,1378.47],"nice":false,"zero":false}},
  "y2":{"field":"c"},
  "color":{"condition":{"test":"datum.c >= datum.o","value":"#22b022"},"value":"#ee0000"}}},
{"data":{"name":"blue"},"mark":{"type":"rule","color":"#00008B","strokeWidth":2,"clip":true},
 "encoding":{
  "x":{"field":"i1","type":"quantitative","scale":{"domain":[0.5,466.25],"nice":false,"zero":false}},
  "x2":{"field":"i2"},
  "y":{"field":"p1","type":"quantitative","scale":{"domain":[1116.79,1378.47],"nice":false,"zero":false}},
  "y2":{"field":"p2"}}},
{"data":{"name":"red"},"mark":{"type":"rule","color":"#ff0000","strokeWidth":2,"clip":true},
 "encoding":{
  "x":{"field":"i1","type":"quantitative","scale":{"domain":[0.5,466.25],"nice":false,"zero":false}},
  "x2":{"field":"i2"},
  "y":{"field":"p1","type":"quantitative","scale":{"domain":[1116.79,1378.47],"nice":false,"zero":false}},
  "y2":{"field":"p2"}}},
{"data":{"name":"labels"},"mark":{"type":"text","font":"Liberation Sans","fontWeight":"bold","fontSize":25,"color":"#000000","align":"center","baseline":"middle"},
 "encoding":{
  "x":{"field":"i","type":"quantitative","scale":{"domain":[0.5,466.25],"nice":false,"zero":false}},
  "y":{"field":"p","type":"quantitative","scale":{"domain":[1116.79,1378.47],"nice":false,"zero":false}},
  "text":{"field":"t"}}},
{"data":{"values":[{"i":465.5,"p":1285.3,"t":"38.2"}]},"mark":{"type":"text","font":"Liberation Sans","fontSize":9,"color":"#000000","align":"right","baseline":"middle"},
 "encoding":{
  "x":{"field":"i","type":"quantitative","scale":{"domain":[0.5,466.25],"nice":false,"zero":false}},
  "y":{"field":"p","type":"quantitative","scale":{"domain":[1116.79,1378.47],"nice":false,"zero":false}},
  "text":{"field":"t"}}},
{"data":{"values":[{"i":3.75,"p":1376.5,"t":"GOLD,Daily\u00a0\u00a01314.231 1326.690 1314.151 1323.950"}]},"mark":{"type":"text","font":"Liberation Sans","fontSize":10,"color":"#000000","align":"left","baseline":"middle"},
 "encoding":{
  "x":{"field":"i","type":"quantitative","scale":{"domain":[0.5,466.25],"nice":false,"zero":false}},
  "y":{"field":"p","type":"quantitative","scale":{"domain":[1116.79,1378.47],"nice":false,"zero":false}},
  "text":{"field":"t"}}},
{"data":{"values":[{"i":1.6,"p":1376.8}]},"mark":{"type":"point","shape":"triangle-down","filled":true,"size":22,"color":"#000000"},
 "encoding":{
  "x":{"field":"i","type":"quantitative","scale":{"domain":[0.5,466.25],"nice":false,"zero":false}},
  "y":{"field":"p","type":"quantitative","scale":{"domain":[1116.79,1378.47],"nice":false,"zero":false}}}},
{"data":{"name":"shift"},"mark":{"type":"point","shape":"triangle-down","filled":true,"size":40,"color":"#909090","clip":false},
 "encoding":{
  "x":{"field":"i","type":"quantitative","scale":{"domain":[0.5,466.25],"nice":false,"zero":false}},
  "y":{"field":"p","type":"quantitative","scale":{"domain":[1116.79,1378.47],"nice":false,"zero":false}}}},
{"data":{"name":"bottomline"},"mark":{"type":"rule","color":"#606060","strokeWidth":1,"clip":false},
 "encoding":{
  "x":{"field":"i1","type":"quantitative","scale":{"domain":[0.5,466.25],"nice":false,"zero":false}},
  "x2":{"field":"i2"},
  "y":{"field":"p","type":"quantitative","scale":{"domain":[1116.79,1378.47],"nice":false,"zero":false}}}},
{"data":{"name":"boxes"},"mark":{"type":"rect","clip":false},
 "encoding":{
  "x":{"field":"i1","type":"quantitative","scale":{"domain":[0.5,466.25],"nice":false,"zero":false}},
  "x2":{"field":"i2"},
  "y":{"field":"p1","type":"quantitative","scale":{"domain":[1116.79,1378.47],"nice":false,"zero":false}},
  "y2":{"field":"p2"},
  "color":{"field":"k","type":"nominal","scale":{"domain":["red","black"],"range":["#ff0000","#000000"]},"legend":null}}},
{"data":{"name":"boxes"},"mark":{"type":"text","font":"Liberation Sans","fontSize":9.5,"color":"#ffffff","align":"left","baseline":"middle","dx":2},
 "encoding":{
  "x":{"field":"i1","type":"quantitative","scale":{"domain":[0.5,466.25],"nice":false,"zero":false}},
  "y":{"field":"p1","type":"quantitative","scale":{"domain":[1116.79,1378.47],"nice":false,"zero":false}},
  "yOffset":{"value":-4.5},
  "text":{"field":"t"}}}
]
}
